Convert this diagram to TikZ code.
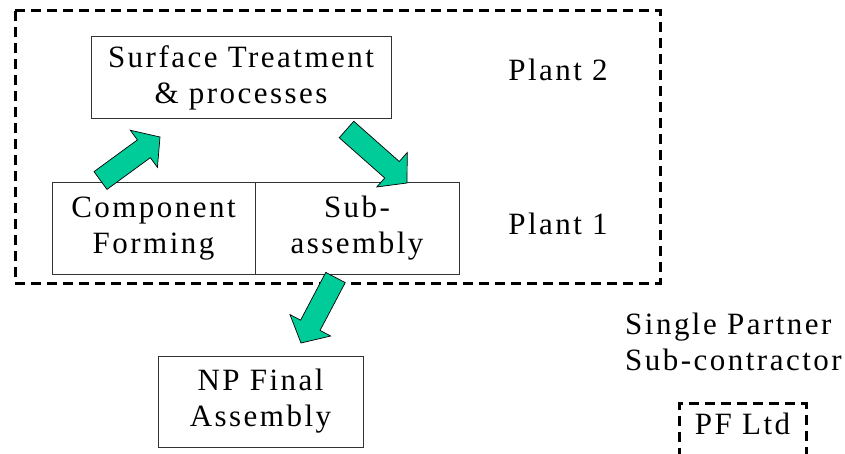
\documentclass[tikz,border=0pt]{standalone}
\usepackage{fontspec}
\setmainfont{Liberation Serif}[LetterSpace=8]
\usetikzlibrary{positioning, calc}
\definecolor{arrowgreen}{RGB}{0,204,153}

\begin{document}
\begin{tikzpicture}[x=1pt, y=-1pt, font=\fontsize{31}{36}\selectfont]

\tikzset{box/.style = {draw=black!80, line width=1pt, outer sep=0pt, inner sep=0pt, align=center,
  execute at begin node={\rule{0pt}{28pt}}}}
\tikzset{dashframe/.style = {draw, line width=3pt, dash pattern=on 10pt off 6pt}}
\tikzset{fatarrow/.style = {draw=black, line width=0.7pt, fill=arrowgreen, line join=miter,
  to path={($(\tikztostart)!11pt!90:(\tikztotarget)$)
    -- ($(\tikztotarget)!20pt!(\tikztostart)!11pt!90:(\tikztotarget)$)
    -- ($(\tikztotarget)!20pt!(\tikztostart)!23pt!90:(\tikztotarget)$)
    -- (\tikztotarget)
    -- ($(\tikztotarget)!20pt!(\tikztostart)!23pt!-90:(\tikztotarget)$)
    -- ($(\tikztotarget)!20pt!(\tikztostart)!11pt!-90:(\tikztotarget)$)
    -- ($(\tikztostart)!11pt!-90:(\tikztotarget)$) -- cycle}}}

\clip (0,0) rectangle (845,454);

% plants
\draw[dashframe] (15,11) rectangle (660,283);
\node[box, minimum width=300pt, minimum height=82pt] (surf) at (241,78) {Surface Treatment\\\& processes};
\node[box, minimum width=203pt, minimum height=91pt] (comp) at (153.5,228.5) {Component\\Forming};
\node[box, minimum width=204pt, minimum height=91pt, right=0pt of comp] (sub) {Sub-\\assembly};
\node[anchor=base] (plant2) at (558,81) {Plant 2};
\node[anchor=base] (plant1) at (558,235) {Plant 1};

% final assembly and partner
\node[box, minimum width=205pt, minimum height=91pt] (final) at (260.5,401.5) {NP Final\\Assembly};
\node[anchor=north west, align=left, inner sep=0pt] (partner) at (625,313) {Single Partner\\Sub-contractor};
\node[dashframe, anchor=north, minimum width=127pt, inner ysep=9pt, text height=22pt, text depth=30pt] (pf) at (742.5,402) {PF Ltd};

%arrows
\coordinate (a1s) at (100.5,180.5);
\coordinate (a1e) at (160,137);
\coordinate (a2s) at (346.5,129.5);
\coordinate (a2e) at (407,183);
\coordinate (a3s) at (335.5,277.5);
\coordinate (a3e) at (301,343);
\draw[fatarrow] (a1s) to (a1e);
\draw[fatarrow] (a2s) to (a2e);
\draw[fatarrow] (a3s) to (a3e);

\end{tikzpicture}
\end{document}
